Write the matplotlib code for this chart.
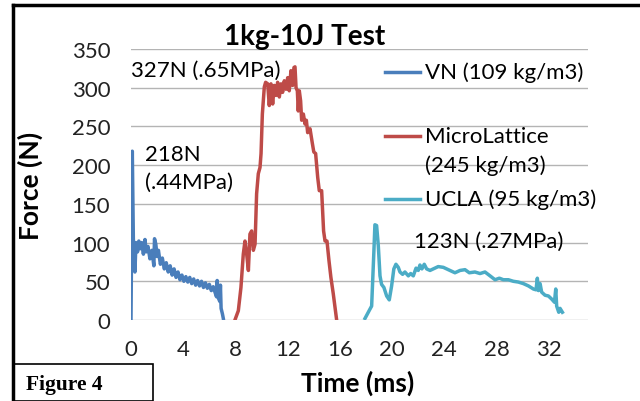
import matplotlib
matplotlib.use('Agg')
import matplotlib.pyplot as plt
from matplotlib.lines import Line2D
from matplotlib.patches import Rectangle

plt.rcParams['font.family'] = ['Lato', 'DejaVu Sans']

# VN (109 kg/m3)
vn_t = [0, 0.1, 0.18, 0.3, 0.38, 0.5, 0.6, 0.7, 0.82, 0.95,
        1.07, 1.17, 1.3, 1.45, 1.6, 1.75, 1.8, 1.9, 2.0, 2.1,
        2.25, 2.4, 2.55, 2.7, 2.85, 3.0, 3.15, 3.3, 3.45, 3.6,
        3.75, 3.9, 4.05, 4.2, 4.35, 4.5, 4.65, 4.8, 4.95, 5.1,
        5.25, 5.4, 5.55, 5.7, 5.85, 6.0, 6.15, 6.3, 6.45, 6.55,
        6.6, 6.7, 6.8, 6.85, 6.9, 7.0, 7.07]
vn_f = [0, 218, 105, 62, 100, 88, 102, 92, 100, 85,
        104, 88, 95, 79, 90, 70, 105, 98, 82, 90,
        72, 80, 66, 74, 62, 70, 58, 66, 55, 62,
        52, 58, 50, 56, 49, 55, 47, 53, 45, 51,
        44, 50, 42, 48, 41, 46, 38, 43, 35, 30,
        51, 28, 24, 45, 15, 8, 2]

# MicroLattice (245 kg/m3)
ml_t = [7.96, 8.22, 8.42, 8.6, 8.73, 8.86, 8.99, 9.11, 9.24, 9.37,
        9.5, 9.62, 9.75, 9.88, 9.96, 10.06, 10.21, 10.31, 10.47, 10.59,
        10.72, 10.85, 10.97, 11.1, 11.23, 11.36, 11.49, 11.61, 11.74, 11.87,
        12.0, 12.12, 12.25, 12.38, 12.48, 12.56, 12.64, 12.74, 12.81, 12.89,
        12.99, 13.07, 13.2, 13.33, 13.43, 13.53, 13.71, 13.89, 14.0, 14.14,
        14.3, 14.42, 14.6, 14.75, 14.86, 15.01, 15.16, 15.31, 15.49, 15.75]
ml_f = [0, 12, 42, 85, 102, 85, 64, 111, 115, 90,
        98, 163, 189, 197, 215, 266, 301, 307, 305, 277,
        305, 279, 303, 290, 307, 288, 305, 294, 309, 298,
        313, 296, 322, 303, 326, 327, 300, 296, 270, 296,
        283, 258, 266, 253, 258, 242, 247, 228, 217, 215,
        184, 167, 167, 115, 102, 102, 77, 55, 34, 0]

# UCLA (95 kg/m3)
ucla_t = [17.92, 18.3, 18.43, 18.61, 18.68, 18.81, 18.94, 19.07, 19.19, 19.37,
          19.58, 19.78, 19.96, 20.13, 20.29, 20.47, 20.6, 20.8, 20.98, 21.24,
          21.42, 21.62, 21.83, 22.0, 22.13, 22.28, 22.46, 22.64, 22.9, 23.15,
          23.53, 23.92, 24.3, 24.81, 25.2, 25.58, 25.91, 26.34, 26.73, 27.11,
          27.5, 27.88, 28.21, 28.52, 28.9, 29.28, 29.67, 30.05, 30.44, 30.82,
          31.02, 31.12, 31.2, 31.33, 31.45, 31.71, 31.97, 32.22, 32.43, 32.53,
          32.6, 32.76, 32.86, 33.04]
ucla_f = [2, 14, 18, 92, 123, 122, 96, 57, 46, 42,
          31, 26, 44, 66, 72, 68, 62, 59, 62, 57,
          60, 57, 67, 64, 71, 66, 72, 66, 64, 66,
          69, 68, 65, 61, 64, 65, 61, 62, 60, 62,
          57, 52, 54, 52, 52, 50, 49, 47, 44, 40,
          39, 54, 38, 47, 36, 32, 31, 27, 23, 40,
          18, 10, 15, 10]

x_ticks = [0, 4, 8, 12, 16, 20, 24, 28, 32]
y_ticks = [0, 50, 100, 150, 200, 250, 300, 350]

colors = ['#4a7ebb', '#be4b48', '#4bacc6']
labels = [['VN (109 kg/m3)'], ['MicroLattice', '(245 kg/m3)'], ['UCLA (95 kg/m3)']]

W, H = 640, 402
fig = plt.figure(figsize=(W / 100, H / 100), dpi=100)


def fx(px):
    return px / W


def fy(py):
    return 1 - py / H


FS = 16
ax = fig.add_axes([fx(131), fy(321), fx(588) - fx(131), fy(50) - fy(321)])
ax.plot(vn_t, vn_f, color=colors[0], lw=2.5)
ax.plot(ml_t, ml_f, color=colors[1], lw=2.5)
ax.plot(ucla_t, ucla_f, color=colors[2], lw=2.5)

ax.set_xlim(0, 35)
ax.set_ylim(0, 350)
ax.set_xticks(x_ticks)
ax.set_yticks(y_ticks)
ax.tick_params(length=0, labelsize=FS, colors='#222222')
ax.tick_params(axis='y', pad=15)
ax.tick_params(axis='x', pad=14)
for s in ax.spines.values():
    s.set_visible(False)
ax.grid(axis='y', color='#b4b4b4', lw=1)
ax.set_axisbelow(True)

# annotations
ax.text(0, 323, '327N (.65MPa)', fontsize=FS, va='center', ha='left')
ax.text(1.07, 214, '218N', fontsize=FS, va='center', ha='left')
ax.text(1.07, 178, '(.44MPa)', fontsize=FS, va='center', ha='left')
ax.text(21.7, 102, '123N (.27MPa)', fontsize=FS, va='center', ha='left')

# title and axis labels
fig.text(fx(305), fy(37), '1kg-10J Test', fontsize=20, fontweight='bold',
         ha='center', va='center')
fig.text(fx(30), fy(186), 'Force (N)', fontsize=19, fontweight='bold',
         rotation=90, ha='center', va='center')
fig.text(fx(358), fy(383), 'Time (ms)', fontsize=19, fontweight='bold',
         ha='center', va='center')

# legend, drawn by hand to mimic the Excel layout
leg_y = [73, 137, 200]
for c, lab, y in zip(colors, labels, leg_y):
    fig.add_artist(Line2D([fx(385), fx(420)], [fy(y), fy(y)], color=c, lw=2.5))
    for k, line in enumerate(lab):
        fig.text(fx(425), fy(y + 29 * k), line, fontsize=FS, ha='left', va='center')

# outer frame and figure caption box
fig.add_artist(Line2D([fx(13), fx(640)], [fy(6), fy(6)], color='black', lw=2.5))
fig.add_artist(Line2D([fx(13), fx(13)], [fy(6), fy(402)], color='black', lw=2.5))
fig.add_artist(Rectangle((fx(13), 0), fx(153) - fx(13), fy(365), fill=False,
                         ec='black', lw=1.2, transform=fig.transFigure))
fig.text(fx(26), fy(385), 'Figure 4', fontsize=15.5, fontweight='bold',
         family='Liberation Serif', ha='left', va='center')

fig.savefig('out.png', dpi=100)
